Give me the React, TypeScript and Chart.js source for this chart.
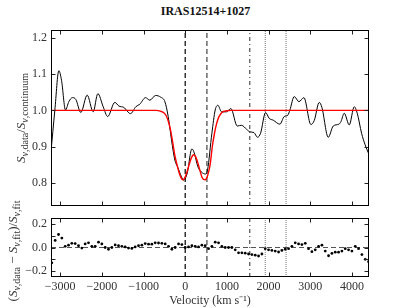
import React, { useEffect, useRef } from "react";
import { Chart, registerables } from "chart.js";
Chart.register(...registerables);

const TITLE = "IRAS12514+1027";
const X_MIN = -3220;
const X_MAX = 4410;
const TOP_Y_MIN = 0.737;
const TOP_Y_MAX = 1.221;
const RES_Y_MIN = -0.25;
const RES_Y_MAX = 0.25;
const xTicks = [-3000, -2000, -1000, 0, 1000, 2000, 3000, 4000];
const topYTicks = [0.8, 0.9, 1.0, 1.1, 1.2];
const resYTicks = [-0.2, -0.1, 0.0, 0.1, 0.2];

const dataVel = [-3224, -3128, -3032, -2968, -2872, -2792, -2704, -2624, -2504, -2352, -2208, -2096, -1968, -1860, -1688, -1592, -1472, -1312, -1184, -1088, -952, -848, -712, -584, -488, -408, -328, -248, -184, -88, -40, 48, 160, 208, 304, 384, 488, 536, 640, 720, 784, 872, 992, 1096, 1248, 1352, 1472, 1552, 1648, 1736, 1808, 1928, 2016, 2112, 2272, 2376, 2464, 2512, 2616, 2728, 2848, 3016, 3096, 3216, 3280, 3432, 3552, 3688, 3736, 3816, 3936, 4056, 4128, 4232, 4312, 4416];
const dataFlux = [0.882, 1.0, 1.109, 1.083, 1.001, 1.024, 1.035, 1.03, 0.994, 1.042, 0.996, 1.046, 1.01, 0.983, 1.022, 1.012, 1.008, 0.991, 1.01, 1.017, 1.035, 1.028, 1.041, 1.036, 1.024, 0.983, 0.918, 0.863, 0.845, 0.817, 0.808, 0.827, 0.894, 0.886, 0.845, 0.831, 0.825, 0.836, 0.937, 1.001, 1.014, 0.996, 0.996, 1.005, 0.957, 0.959, 0.948, 0.941, 0.939, 0.926, 0.937, 0.994, 0.978, 0.973, 0.962, 0.983, 0.987, 1.001, 1.038, 1.024, 1.035, 0.961, 0.972, 1.022, 1.008, 0.926, 0.957, 0.962, 0.969, 0.992, 0.96, 1.01, 0.992, 0.937, 0.907, 0.877];

const fitVel = [-3190, -700, -600, -500, -450, -400, -350, -300, -250, -200, -150, -100, -60, -20, 20, 60, 100, 150, 200, 250, 300, 350, 400, 440, 480, 520, 560, 600, 650, 700, 750, 800, 850, 900, 950, 1000, 1100, 4410];
const fitFlux = [1.0, 1.0, 0.998, 0.992, 0.984, 0.968, 0.945, 0.912, 0.877, 0.852, 0.83, 0.815, 0.809, 0.812, 0.822, 0.837, 0.853, 0.87, 0.878, 0.873, 0.857, 0.836, 0.817, 0.81, 0.809, 0.815, 0.83, 0.852, 0.9, 0.935, 0.962, 0.98, 0.99, 0.996, 0.998, 0.999, 1.0, 1.0];

const resVel = [-3200, -3120, -3040, -2960, -2880, -2800, -2720, -2640, -2560, -2480, -2400, -2320, -2240, -2160, -2080, -2000, -1920, -1840, -1760, -1680, -1600, -1520, -1440, -1360, -1280, -1200, -1120, -1040, -960, -880, -800, -720, -640, -560, -480, -400, -320, -240, -160, -80, 0, 80, 160, 240, 320, 400, 480, 560, 640, 720, 800, 880, 960, 1040, 1120, 1200, 1280, 1360, 1440, 1520, 1600, 1680, 1760, 1840, 1920, 2000, 2080, 2160, 2240, 2320, 2400, 2480, 2560, 2640, 2720, 2800, 2880, 2960, 3040, 3120, 3200, 3280, 3360, 3440, 3520, 3600, 3680, 3760, 3840, 3920, 4000, 4080, 4160, 4240, 4320, 4400];
const resVal = [-0.13, 0.06, 0.11, 0.08, 0.01, 0.02, 0.035, 0.033, 0.015, -0.005, 0.03, 0.04, 0.01, 0.01, 0.045, 0.03, 0.0, -0.015, 0.0, 0.022, 0.015, 0.01, 0.005, -0.005, -0.008, 0.005, 0.015, 0.02, 0.033, 0.028, 0.028, 0.04, 0.038, 0.035, 0.03, 0.01, -0.015, 0.0, 0.03, 0.025, 0.0, 0.005, 0.015, 0.01, 0.005, 0.02, 0.015, -0.01, 0.01, 0.045, 0.04, 0.01, 0.0, 0.0, 0.0, -0.02, -0.045, -0.045, -0.048, -0.055, -0.06, -0.065, -0.072, -0.055, -0.01, -0.02, -0.025, -0.03, -0.038, -0.025, -0.015, -0.01, 0.01, 0.04, 0.03, 0.025, 0.035, -0.01, -0.035, -0.02, 0.01, 0.02, -0.03, -0.07, -0.05, -0.04, -0.04, -0.03, -0.01, -0.02, -0.03, 0.01, -0.01, -0.06, -0.1, -0.12];

const lineVel = [0, 520, 1550, 1920, 2420];
const lineColor = ["#000000", "#7a7a7a", "#111111", "#777777", "#777777"];
const lineWidth = [1.2, 1.7, 0.9, 1, 1];
const lineDash = [[5, 3], [5, 3], [4, 3, 1, 3], [1, 1], [1, 1]];

const FONT = '"Liberation Serif", "Times New Roman", serif';

type Part = { t: string; sub?: boolean; it?: boolean };

function drawRich(ctx: CanvasRenderingContext2D, baseX: number, cy: number, parts: Part[]) {
  const mainSize = 13;
  const subSize = 10;
  const fontOf = (p: Part) => `${p.it ? "italic " : ""}${p.sub ? subSize : mainSize}px ${FONT}`;
  ctx.save();
  ctx.translate(baseX, cy);
  ctx.rotate(-Math.PI / 2);
  ctx.fillStyle = "#333";
  ctx.textBaseline = "alphabetic";
  ctx.textAlign = "left";
  let total = 0;
  for (const p of parts) {
    ctx.font = fontOf(p);
    total += ctx.measureText(p.t).width;
  }
  let x = -total / 2;
  for (const p of parts) {
    ctx.font = fontOf(p);
    ctx.fillText(p.t, x, p.sub ? 3 : 0);
    x += ctx.measureText(p.t).width;
  }
  ctx.restore();
}

const topLabel: Part[] = [
  { t: "S", it: true },
  { t: "ν", it: true, sub: true },
  { t: ",data", sub: true },
  { t: "/" },
  { t: "S", it: true },
  { t: "ν", it: true, sub: true },
  { t: ",continuum", sub: true },
];
const resLabel: Part[] = [
  { t: "(" },
  { t: "S", it: true },
  { t: "ν", it: true, sub: true },
  { t: ",data", sub: true },
  { t: " − " },
  { t: "S", it: true },
  { t: "ν", it: true, sub: true },
  { t: ",fit", sub: true },
  { t: ")/" },
  { t: "S", it: true },
  { t: "ν", it: true, sub: true },
  { t: ",fit", sub: true },
];

function framePlugin(yTicks: number[], label: Part[], labelX: number, labelY: number) {
  return {
    id: "frame",
    afterDraw(chart: any) {
      const { ctx, chartArea: a, scales } = chart;
      const xs = scales.x;
      const ys = scales.y;
      ctx.save();
      ctx.strokeStyle = "#222";
      ctx.lineWidth = 1;
      const L = Math.round(a.left) + 0.5;
      const R = Math.round(a.right) - 0.5;
      const T = Math.round(a.top) + 0.5;
      const B = Math.round(a.bottom) - 0.5;
      ctx.beginPath();
      for (const v of xTicks) {
        const px = Math.round(xs.getPixelForValue(v)) + 0.5;
        ctx.moveTo(px, T);
        ctx.lineTo(px, T + 4);
        ctx.moveTo(px, B);
        ctx.lineTo(px, B - 4);
      }
      for (const v of yTicks) {
        const py = Math.round(ys.getPixelForValue(v)) + 0.5;
        ctx.moveTo(L, py);
        ctx.lineTo(L + 4, py);
        ctx.moveTo(R, py);
        ctx.lineTo(R - 4, py);
      }
      ctx.stroke();
      ctx.strokeStyle = "#000";
      ctx.strokeRect(L, T, R - L, B - T);
      ctx.restore();
      drawRich(ctx, labelX, labelY, label);
    },
  };
}

const tickFmt = (digits: number) => (v: any) => {
  const n = Number(v);
  const s = Math.abs(n).toFixed(digits);
  return (n < -1e-9 ? "−" : "") + s;
};

function vLines(yMin: number, yMax: number) {
  return lineVel.map((v, i) => ({
    data: [
      { x: v, y: yMin },
      { x: v, y: yMax },
    ],
    showLine: true,
    borderColor: lineColor[i],
    borderWidth: lineWidth[i],
    borderDash: lineDash[i],
    pointRadius: 0,
    tension: 0,
  }));
}

export default function App() {
  const topRef = useRef<HTMLCanvasElement>(null);
  const botRef = useRef<HTMLCanvasElement>(null);

  useEffect(() => {
    const common = {
      animation: false as const,
      responsive: false,
      devicePixelRatio: 1,
      plugins: { legend: { display: false }, tooltip: { enabled: false }, title: { display: false } },
    };
    const yAxisBase = (min: number, max: number, ticks: number[]) => ({
      type: "linear" as const,
      min,
      max,
      grid: { display: false, drawTicks: false },
      border: { display: false },
      afterFit: (s: any) => {
        s.width = 51;
      },
      afterBuildTicks: (s: any) => {
        s.ticks = ticks.map((v) => ({ value: v }));
      },
      ticks: {
        padding: 4,
        color: "#333",
        font: { family: FONT, size: 12 },
        callback: tickFmt(1),
      },
    });

    const top = new Chart(topRef.current!, {
      type: "scatter",
      data: {
        datasets: [
          {
            data: fitVel.map((x, i) => ({ x, y: fitFlux[i] })),
            showLine: true,
            borderColor: "#ff0000",
            borderWidth: 1.4,
            pointRadius: 0,
            cubicInterpolationMode: "monotone",
          },
          {
            data: dataVel.map((x, i) => ({ x, y: dataFlux[i] })),
            showLine: true,
            borderColor: "#000000",
            borderWidth: 1,
            pointRadius: 0,
            cubicInterpolationMode: "monotone",
          },
          ...vLines(TOP_Y_MIN, TOP_Y_MAX),
        ] as any,
      },
      options: {
        ...common,
        layout: { padding: { left: 0, right: 42, top: 30, bottom: 102 } },
        scales: {
          x: { type: "linear", min: X_MIN, max: X_MAX, display: false },
          y: yAxisBase(TOP_Y_MIN, TOP_Y_MAX, topYTicks),
        },
      } as any,
      plugins: [framePlugin(topYTicks, topLabel, 25, 118)],
    });

    const bot = new Chart(botRef.current!, {
      type: "scatter",
      data: {
        datasets: [
          {
            data: resVel.map((x, i) => ({ x, y: resVal[i] })),
            showLine: false,
            pointRadius: 1.4,
            pointBorderWidth: 0,
            pointBackgroundColor: "#000",
            pointBorderColor: "#000",
          },
          {
            data: [
              { x: X_MIN, y: 0 },
              { x: X_MAX, y: 0 },
            ],
            showLine: true,
            borderColor: "#555",
            borderWidth: 1,
            borderDash: [5, 3],
            pointRadius: 0,
          },
          ...vLines(RES_Y_MIN, RES_Y_MAX),
        ] as any,
      },
      options: {
        ...common,
        layout: { padding: { left: 0, right: 42, top: 218, bottom: 0 } },
        scales: {
          x: {
            type: "linear",
            min: X_MIN,
            max: X_MAX,
            grid: { display: false, drawTicks: false },
            border: { display: false },
            afterFit: (s: any) => {
              s.height = 31;
            },
            afterBuildTicks: (s: any) => {
              s.ticks = xTicks.map((v) => ({ value: v }));
            },
            ticks: {
              padding: 3,
              autoSkip: false,
              maxRotation: 0,
              color: "#333",
              font: { family: FONT, size: 12 },
              callback: tickFmt(0),
            },
            title: {
              display: true,
              text: "Velocity (km s⁻¹)",
              color: "#333",
              font: { family: FONT, size: 12, lineHeight: 1.2 },
              padding: { top: 0, bottom: 0 },
            },
          },
          y: yAxisBase(RES_Y_MIN, RES_Y_MAX, resYTicks),
        },
      } as any,
      plugins: [framePlugin(resYTicks, resLabel, 17, 251)],
    });

    return () => {
      top.destroy();
      bot.destroy();
    };
  }, []);

  return (
    <div style={{ position: "absolute", left: 0, top: 0, width: 411, height: 308, background: "#fff", overflow: "hidden" }}>
      <div
        style={{
          position: "absolute",
          left: 0,
          top: 3,
          width: 411,
          textAlign: "center",
          fontFamily: FONT,
          fontWeight: "bold",
          fontSize: 12,
          lineHeight: "16px",
          color: "#111",
        }}
      >
        {TITLE}
      </div>
      <canvas ref={topRef} width={411} height={308} style={{ position: "absolute", left: 0, top: 0 }} />
      <canvas ref={botRef} width={411} height={308} style={{ position: "absolute", left: 0, top: 0 }} />
    </div>
  );
}
